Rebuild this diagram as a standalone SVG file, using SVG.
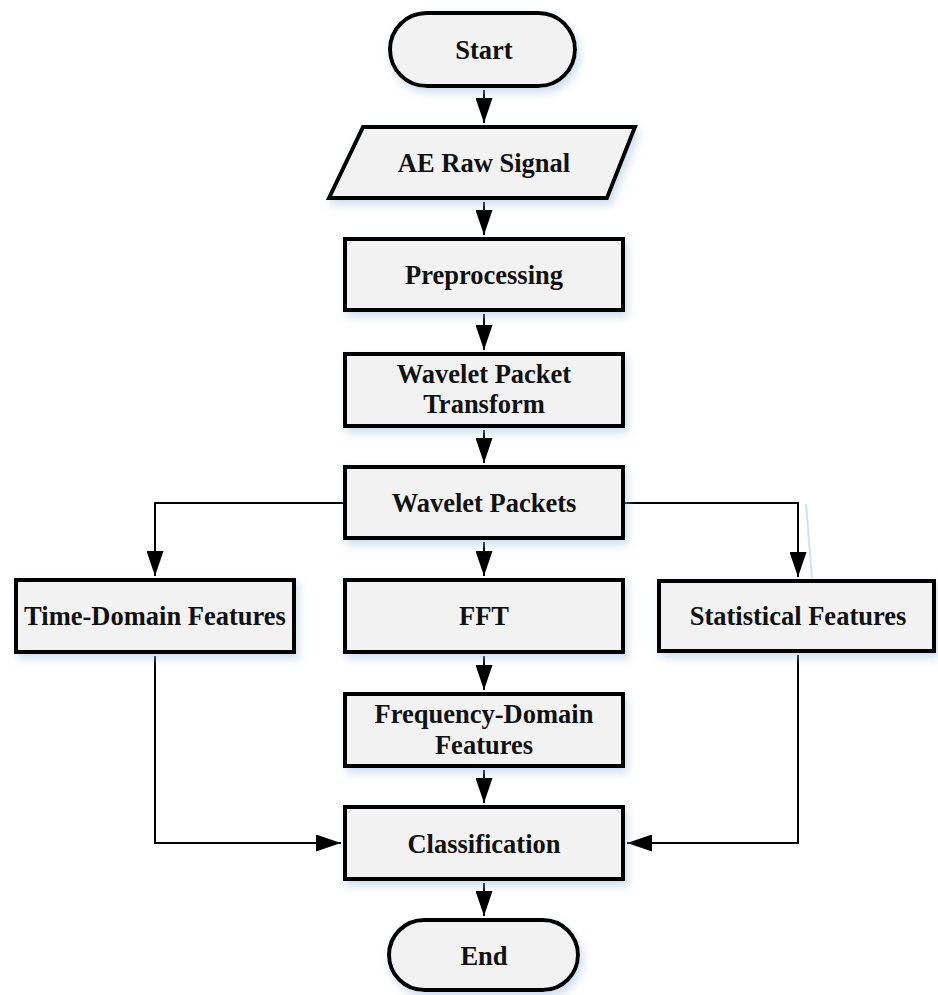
<svg xmlns="http://www.w3.org/2000/svg" width="938" height="995" viewBox="0 0 938 995">
<defs>
<style>
.node{fill:#f2f2f2;stroke:#000;stroke-width:4;filter:url(#sh)}
.lbl{font-family:"Liberation Serif","Times New Roman",serif;font-weight:bold;font-size:26.5px;fill:#111;text-anchor:middle}
.c{fill:none;stroke:#000;stroke-width:2}
.a{marker-end:url(#ah)}
</style>
<filter id="sh" x="-10%" y="-20%" width="125%" height="150%">
<feDropShadow dx="3" dy="5" stdDeviation="4" flood-color="#a8c2e6" flood-opacity="0.55"/>
</filter>
<marker id="ah" markerUnits="userSpaceOnUse" markerWidth="25" markerHeight="17" refX="25" refY="8.5" orient="auto">
<path d="M0,0 L25,8.5 L0,17 z" fill="#000"/>
</marker>
</defs>
<rect width="938" height="995" fill="#fff"/>
<g id="connectors">
<line class="c a" x1="484" y1="90" x2="484" y2="123"/>
<line class="c a" x1="484" y1="202" x2="484" y2="235"/>
<line class="c a" x1="484" y1="314" x2="484" y2="350"/>
<line class="c a" x1="484" y1="430" x2="484" y2="463"/>
<line class="c a" x1="484" y1="542" x2="484" y2="576"/>
<line class="c a" x1="484" y1="656" x2="484" y2="690"/>
<line class="c a" x1="484" y1="770" x2="484" y2="803"/>
<line class="c a" x1="484" y1="883" x2="484" y2="916"/>
<polyline class="c a" points="343,503 155,503 155,576"/>
<polyline class="c a" points="625,503 798,503 798,577"/>
<polyline class="c a" points="155,656 155,843 341,843"/>
<polyline class="c a" points="798,655 798,843 627,843"/>
<line x1="806" y1="504" x2="812" y2="578" stroke="#d3e0f2" stroke-width="2"/>
</g>
<g id="start"><rect class="node" x="390" y="13" width="185" height="73" rx="36.5"/><text class="lbl" x="484" y="59">Start</text></g>
<g id="raw"><polygon class="node" points="363,127 635,127 607,198 329,198"/><text class="lbl" x="484" y="172">AE Raw Signal</text></g>
<g id="pre"><rect class="node" x="345" y="239" width="278" height="71"/><text class="lbl" x="484" y="284">Preprocessing</text></g>
<g id="wpt"><rect class="node" x="345" y="354" width="278" height="72"/><text class="lbl" x="484" y="383">Wavelet Packet</text><text class="lbl" x="484" y="413">Transform</text></g>
<g id="wp"><rect class="node" x="345" y="467" width="278" height="71"/><text class="lbl" x="484" y="512">Wavelet Packets</text></g>
<g id="time"><rect class="node" x="16" y="580" width="278" height="72"/><text class="lbl" x="155" y="625">Time-Domain Features</text></g>
<g id="fft"><rect class="node" x="345" y="580" width="278" height="72"/><text class="lbl" x="484" y="625">FFT</text></g>
<g id="stat"><rect class="node" x="659" y="581" width="275" height="70"/><text class="lbl" x="798" y="625">Statistical Features</text></g>
<g id="freq"><rect class="node" x="345" y="694" width="278" height="72"/><text class="lbl" x="484" y="723">Frequency-Domain</text><text class="lbl" x="484" y="754">Features</text></g>
<g id="class"><rect class="node" x="345" y="807" width="278" height="72"/><text class="lbl" x="484" y="853">Classification</text></g>
<g id="end"><rect class="node" x="389" y="920" width="189" height="70" rx="35"/><text class="lbl" x="484" y="965">End</text></g>
</svg>
